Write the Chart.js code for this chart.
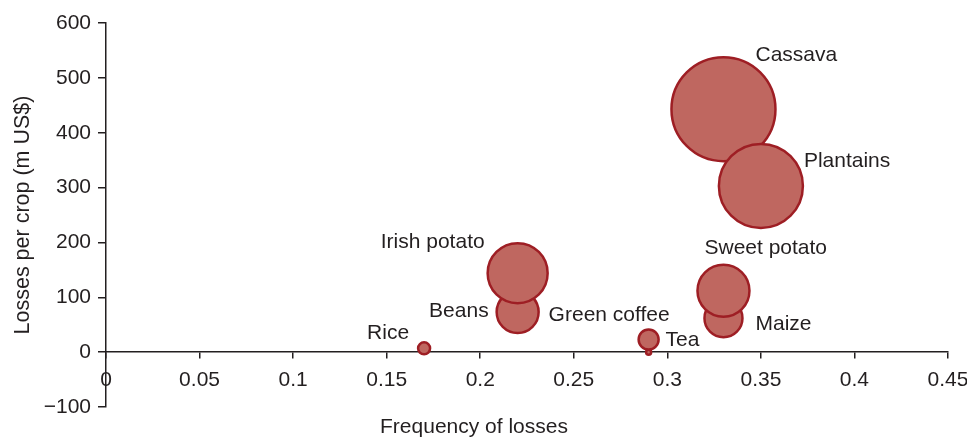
<!DOCTYPE html>
<html>
<head>
<meta charset="utf-8">
<script src="https://cdn.jsdelivr.net/npm/chart.js@4.4.1/dist/chart.umd.min.js"></script>
<style>
    html, body { margin: 0; padding: 0; background: #fff; }
    #wrap { width: 967px; height: 438px; }
</style>
</head>
<body>
<div id="wrap"><canvas id="lossChart"></canvas></div>
<script>
// listed in drawing order: later bubbles sit on top
const crops = ['Cassava', 'Plantains', 'Beans', 'Irish potato', 'Maize', 'Sweet potato', 'Tea', 'Green coffee', 'Rice'];
const frequency = [0.33, 0.35, 0.22, 0.22, 0.33, 0.33, 0.29, 0.29, 0.17];
const losses = [443, 303, 73, 144, 62, 112, 0, 23, 7];
const bubbleSize = [52, 42, 21, 30, 19, 26, 2.5, 10, 6];
const xTicks = [0, 0.05, 0.1, 0.15, 0.2, 0.25, 0.3, 0.35, 0.4, 0.45];
const yTicks = [-100, 0, 100, 200, 300, 400, 500, 600];

// where each name sits next to its bubble
const labelPlace = [
    { dx: 32, dy: -54, align: 'left' },
    { dx: 43, dy: -25, align: 'left' },
    { dx: -29, dy: -1, align: 'right' },
    { dx: -33, dy: -31, align: 'right' },
    { dx: 32, dy: 6, align: 'left' },
    { dx: -19, dy: -42, align: 'left' },
    { dx: 17, dy: -12, align: 'left' },
    { dx: -100, dy: -24, align: 'left' },
    { dx: -15, dy: -15, align: 'right' },
];

const ink = '#231f20';
const font = "'Liberation Sans', Arial, Helvetica, sans-serif";

const bubbleLabels = {
    id: 'bubbleLabels',
    afterDatasetsDraw(chart) {
        const ctx = chart.ctx;
        const meta = chart.getDatasetMeta(0);
        ctx.save();
        ctx.font = '21px ' + font;
        ctx.fillStyle = ink;
        ctx.textBaseline = 'middle';
        meta.data.forEach(function (pt, i) {
            const p = labelPlace[i];
            ctx.textAlign = p.align;
            ctx.fillText(crops[i], pt.x + p.dx, pt.y + p.dy);
        });
        ctx.restore();
    },
};

new Chart(document.getElementById('lossChart'), {
    type: 'bubble',
    data: {
        datasets: [
            {
                label: 'Losses',
                data: crops.map(function (c, i) {
                    return { x: frequency[i], y: losses[i], r: bubbleSize[i] };
                }),
                backgroundColor: 'rgb(191, 103, 96)',
                borderColor: 'rgb(158, 30, 36)',
                borderWidth: 2.5,
                clip: false,
            },
        ],
    },
    options: {
        responsive: true,
        maintainAspectRatio: false,
        animation: false,
        layout: {
            autoPadding: false,
            padding: { top: 23, right: 19, left: 0, bottom: 0 },
        },
        plugins: {
            legend: { display: false },
            tooltip: { enabled: false },
            title: {
                display: true,
                position: 'bottom',
                text: 'Frequency of losses',
                color: ink,
                font: { family: font, size: 21, weight: 'normal', lineHeight: 1 },
                padding: { top: 10, bottom: 0 },
            },
        },
        scales: {
            x: {
                type: 'linear',
                position: { y: 0 },
                min: 0,
                max: 0.45,
                afterBuildTicks: function (scale) {
                    scale.ticks = xTicks.map(function (v) { return { value: v }; });
                },
                afterFit: function (scale) {
                    scale.paddingLeft = 0;
                    scale.paddingRight = 0;
                },
                grid: {
                    drawOnChartArea: false,
                    drawTicks: true,
                    tickLength: 6,
                    color: ink,
                    lineWidth: 1.5,
                },
                border: { color: ink, width: 1.5 },
                ticks: {
                    color: ink,
                    padding: 9,
                    maxRotation: 0,
                    autoSkip: false,
                    font: { family: font, size: 21 },
                    callback: function (value) {
                        return String(Number(value.toFixed(2)));
                    },
                },
            },
            y: {
                type: 'linear',
                min: -100,
                max: 600,
                afterBuildTicks: function (scale) {
                    scale.ticks = yTicks.map(function (v) { return { value: v }; });
                },
                afterFit: function (scale) {
                    scale.width = 106;
                },
                grid: {
                    drawOnChartArea: false,
                    drawTicks: true,
                    tickLength: 8,
                    color: ink,
                    lineWidth: 1.5,
                },
                border: { color: ink, width: 1.5 },
                ticks: {
                    color: ink,
                    padding: 7,
                    autoSkip: false,
                    font: { family: font, size: 21 },
                    callback: function (value) {
                        return value < 0 ? '\u2212' + Math.abs(value) : String(value);
                    },
                },
                title: {
                    display: true,
                    text: 'Losses per crop (m US$)',
                    color: ink,
                    font: { family: font, size: 21.5 },
                    padding: { top: 10, bottom: 0 },
                },
            },
        },
    },
    plugins: [bubbleLabels],
});
</script>
</body>
</html>
